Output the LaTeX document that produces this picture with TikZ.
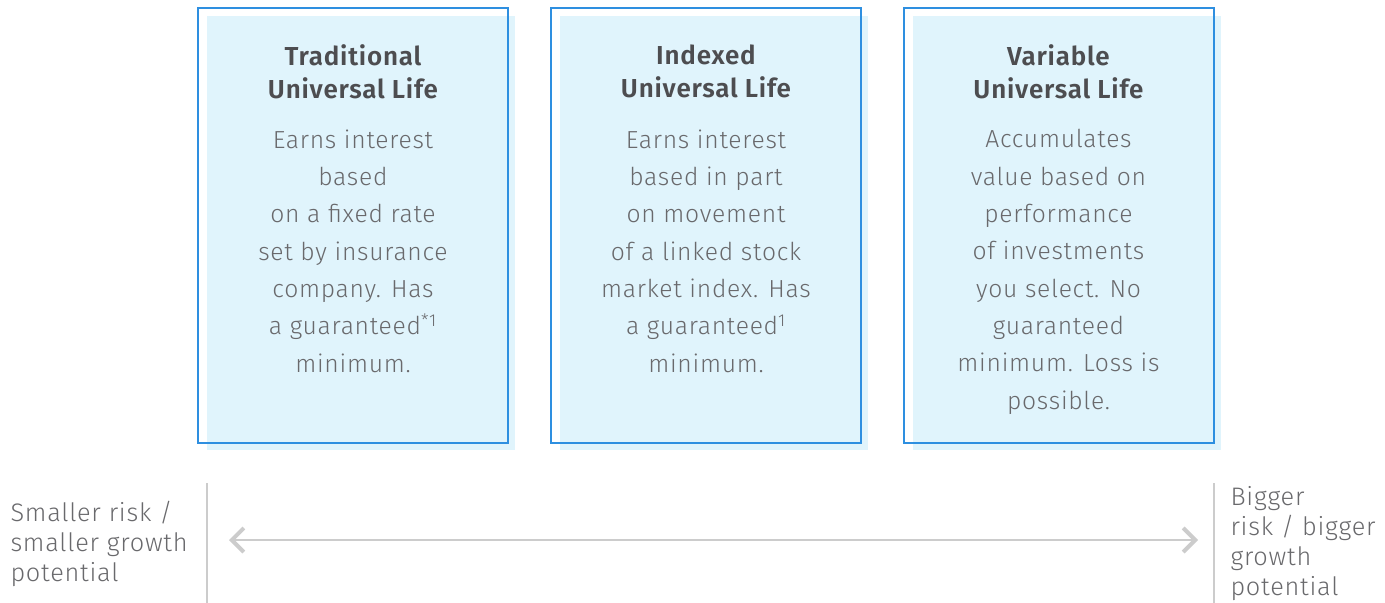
\documentclass[tikz,border=0pt]{standalone}
\usepackage{fontspec}
\setmainfont{Fira Sans}
\newfontfamily\titlefont{Fira Sans SemiBold}[LetterSpace=3]
\newfontfamily\lightfont{Fira Sans Light}[LetterSpace=3]
\usetikzlibrary{arrows.meta}

\definecolor{boxline}{RGB}{46,143,224}
\definecolor{boxfill}{RGB}{224,244,252}
\definecolor{titlegray}{RGB}{77,77,80}
\definecolor{bodygray}{RGB}{105,105,108}
\definecolor{axisgray}{RGB}{204,204,204}

\tikzset{every picture/.style={line width=0.75pt}}

\begin{document}
\begin{tikzpicture}[x=0.75pt,y=0.75pt,yscale=-1,xscale=1,
  panel/.style={draw=boxline,line width=1.5pt,minimum width=232.5pt,minimum height=326.25pt,inner sep=0pt},
  panelfill/.style={fill=boxfill},
  paneltitle/.style={anchor=north,inner sep=0pt,align=center,text=titlegray,font=\titlefont\fontsize{19.5}{24.75}\selectfont},
  paneltext/.style={anchor=north,inner sep=0pt,align=center,text=bodygray,font=\lightfont\fontsize{18.5}{28}\selectfont},
  sidetext/.style={inner sep=0pt,align=left,text=bodygray,font=\lightfont\fontsize{19}{22.5}\selectfont},
  divider/.style={draw=axisgray,line width=1.5pt},
  riskarrow/.style={draw=axisgray,line width=1pt,{Straight Barb[length=9pt,width=18pt,line width=3pt]}-{Straight Barb[length=9pt,width=18pt,line width=3pt]}}]
\path[use as bounding box] (0,0) rectangle (1385,603);

%Shape: shadows behind the panels
\fill [panelfill] (207,16) rectangle (515,450);
\fill [panelfill] (560,16) rectangle (868,450);
\fill [panelfill] (913,16) rectangle (1221,450);

%Shape: panels
\node [panel] (trad) at (353,225.5) {};
\node [panel] (indexed) at (706,225.5) {};
\node [panel] (variable) at (1058.5,225.5) {};

% Text Node
\node [paneltitle] (tradtitle) at (353,44) {Traditional\\Universal Life};
% Text Node
\node [paneltext] (tradbody) at (353,129) {Earns interest\\based\\on a fixed rate\\set by insurance\\company. Has\\a guaranteed\textsuperscript{*1}\\minimum.};

% Text Node
\node [paneltitle] (indextitle) at (706,44) {Indexed\\Universal Life};
% Text Node
\node [paneltext] (indexbody) at (706,129) {Earns interest\\based in part\\on movement\\of a linked stock\\market index. Has\\a guaranteed\textsuperscript{1}\\minimum.};

% Text Node
\node [paneltitle] (vartitle) at (1058.5,44) {Variable\\Universal Life};
% Text Node
\node [paneltext] (varbody) at (1058.5,129) {Accumulates\\value based on\\performance\\of investments\\you select. No\\guaranteed\\minimum. Loss is\\possible.};

%Shape: risk scale
\coordinate (lefttop) at (207,483);
\coordinate (leftbot) at (207,603);
\coordinate (righttop) at (1214,483);
\coordinate (rightbot) at (1214,603);
\draw [divider] (lefttop) -- (leftbot);
\draw [divider] (righttop) -- (rightbot);
\coordinate (lowend) at (229,540);
\coordinate (highend) at (1198,540);
\draw [riskarrow] (lowend) -- (highend);

% Text Node
\node [sidetext,anchor=west] (smaller) at (10,544) {Smaller risk /\\smaller growth\\potential};
% Text Node
\node [sidetext,anchor=west] (bigger) at (1230,544) {Bigger\\risk / bigger\\growth\\potential};
\end{tikzpicture}
\end{document}
